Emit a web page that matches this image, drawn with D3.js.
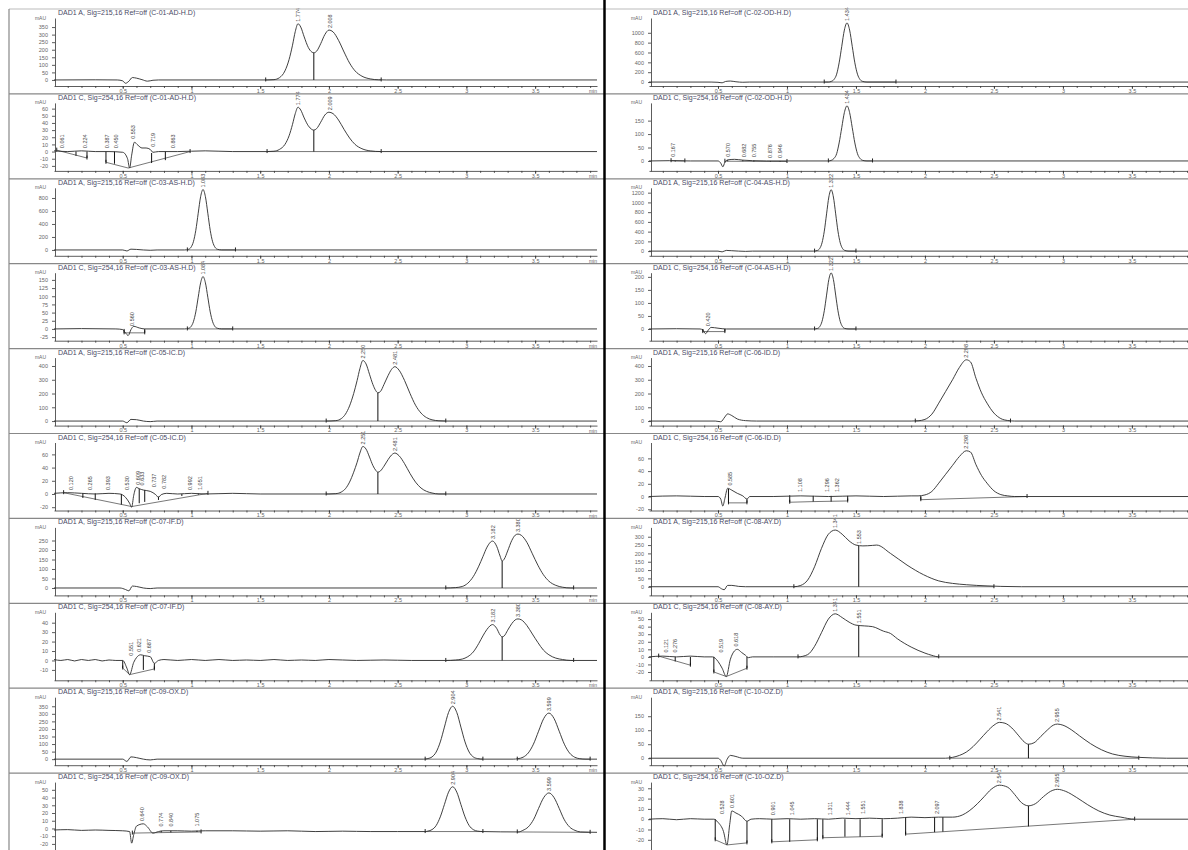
<!DOCTYPE html>
<html>
<head>
<script src="https://d3js.org/d3.v7.min.js"></script>
<style>
  body { margin: 0; background: #fff; }
  svg { display: block; font-family: 'Liberation Sans', Arial, sans-serif; }
  .title { font-size: 7px; fill: #4a4a66; }
  .unit { font-size: 5px; fill: #666; }
  .axis text { font-size: 5.5px; fill: #666; font-family: 'Liberation Sans', Arial, sans-serif; }
  .axis path, .axis line { stroke: #333; stroke-width: 0.8; }
  .plabel { font-size: 5.5px; fill: #444; }
</style>
</head>
<body>
<svg id="chart" width="1188" height="850"></svg>
<script>
// panels in reading order: row by row, left then right
const titles = [
  'DAD1 A, Sig=215,16 Ref=off (C-01-AD-H.D)', 'DAD1 A, Sig=215,16 Ref=off (C-02-OD-H.D)',
  'DAD1 C, Sig=254,16 Ref=off (C-01-AD-H.D)', 'DAD1 C, Sig=254,16 Ref=off (C-02-OD-H.D)',
  'DAD1 A, Sig=215,16 Ref=off (C-03-AS-H.D)', 'DAD1 A, Sig=215,16 Ref=off (C-04-AS-H.D)',
  'DAD1 C, Sig=254,16 Ref=off (C-03-AS-H.D)', 'DAD1 C, Sig=254,16 Ref=off (C-04-AS-H.D)',
  'DAD1 A, Sig=215,16 Ref=off (C-05-IC.D)',   'DAD1 A, Sig=215,16 Ref=off (C-06-ID.D)',
  'DAD1 C, Sig=254,16 Ref=off (C-05-IC.D)',   'DAD1 C, Sig=254,16 Ref=off (C-06-ID.D)',
  'DAD1 A, Sig=215,16 Ref=off (C-07-IF.D)',   'DAD1 A, Sig=215,16 Ref=off (C-08-AY.D)',
  'DAD1 C, Sig=254,16 Ref=off (C-07-IF.D)',   'DAD1 C, Sig=254,16 Ref=off (C-08-AY.D)',
  'DAD1 A, Sig=215,16 Ref=off (C-09-OX.D)',   'DAD1 A, Sig=215,16 Ref=off (C-10-OZ.D)',
  'DAD1 C, Sig=254,16 Ref=off (C-09-OX.D)',   'DAD1 C, Sig=254,16 Ref=off (C-10-OZ.D)'
];

const yDomains = [
  [-40, 410], [-80, 1300],
  [-27, 68], [-37, 216],
  [-90, 957], [-96, 1300],
  [-36, 172], [-45, 216],
  [-33, 461], [-33, 461],
  [-25, 78], [-22, 85],
  [-39, 319], [-52, 356],
  [-21, 51], [-31, 59],
  [-40, 410], [-25, 218],
  [-28, 60], [-30, 36]
];

const yTicks = [
  [0, 50, 100, 150, 200, 250, 300, 350], [0, 200, 400, 600, 800, 1000],
  [-20, -10, 0, 10, 20, 30, 40, 50, 60], [0, 50, 100, 150],
  [0, 200, 400, 600, 800], [0, 200, 400, 600, 800, 1000, 1200],
  [-25, 0, 25, 50, 75, 100, 125, 150], [0, 50, 100, 150, 200],
  [0, 100, 200, 300, 400], [0, 100, 200, 300, 400],
  [-20, 0, 20, 40, 60], [-20, 0, 20, 40, 60],
  [0, 50, 100, 150, 200, 250], [0, 50, 100, 150, 200, 250, 300],
  [-10, 0, 10, 20, 30, 40], [-20, -10, 0, 10, 20, 30, 40, 50],
  [0, 50, 100, 150, 200, 250, 300, 350], [0, 50, 100, 150],
  [-20, -10, 0, 10, 20, 30, 40, 50], [-20, -10, 0, 10, 20, 30]
];

const xTickLabels = [0.5, 1, 1.5, 2, 2.5, 3, 3.5];

// signal traces [time (min), mAU]
const traces = [
  // C-01 DAD1 A
  [[0,0],[0.3,1],[0.46,0],[0.5,-6],[0.52,-22],[0.545,-8],[0.57,16],[0.6,12],[0.64,2],[0.68,-8],[0.72,-2],[0.76,0],[1.2,0],[1.55,0],[1.6,2],[1.64,15],[1.68,60],[1.71,135],[1.735,230],[1.755,320],[1.775,372],[1.795,350],[1.82,285],[1.85,215],[1.875,185],[1.89,180],[1.91,190],[1.94,240],[1.97,300],[2.0,330],[2.03,318],[2.07,262],[2.11,185],[2.15,112],[2.19,60],[2.24,25],[2.3,7],[2.36,1],[2.42,0],[3.95,0]],
  // C-02 DAD1 A
  [[0,0],[0.45,0],[0.5,-5],[0.53,-15],[0.555,12],[0.59,20],[0.63,6],[0.68,-4],[0.73,0],[1.3,0],[1.32,12],[1.34,50],[1.36,160],[1.378,390],[1.397,725],[1.416,1055],[1.435,1200],[1.454,1055],[1.473,725],[1.492,390],[1.511,160],[1.53,50],[1.55,12],[1.58,0],[3.95,0]],
  // C-01 DAD1 C
  [[0,1],[0.1,0],[0.2,1],[0.3,0],[0.4,0],[0.5,-1],[0.535,-10],[0.55,-23],[0.565,-5],[0.585,13],[0.61,9],[0.64,5],[0.67,5],[0.7,3],[0.72,-1],[0.76,0],[0.9,0],[1.1,1],[1.3,0],[1.55,0],[1.6,0.5],[1.64,3],[1.68,10],[1.71,22],[1.735,38],[1.755,53],[1.775,62],[1.795,58],[1.82,47],[1.85,36],[1.875,31],[1.89,30],[1.91,32],[1.94,41],[1.97,51],[2.0,55],[2.03,53],[2.07,44],[2.11,31],[2.15,19],[2.19,10],[2.24,4],[2.3,1],[2.38,0],[3.95,0]],
  // C-02 DAD1 C
  [[0,0],[0.15,1],[0.3,0],[0.5,0],[0.52,-8],[0.535,-22],[0.55,-5],[0.57,4],[0.62,6],[0.68,3],[0.75,1],[0.85,0],[1.3,0],[1.32,2],[1.34,9],[1.36,27],[1.378,67],[1.397,124],[1.416,180],[1.435,205],[1.454,180],[1.473,124],[1.492,67],[1.511,27],[1.53,9],[1.55,2],[1.58,0],[3.95,0]],
  // C-03 DAD1 A
  [[0,0],[0.5,0],[0.53,-15],[0.56,12],[0.6,8],[0.65,0],[0.7,-5],[0.75,0],[0.95,0],[0.979,10],[0.9965,41],[1.014,126],[1.0315,302],[1.049,565],[1.0665,820],[1.084,930],[1.1015,820],[1.119,565],[1.1365,302],[1.154,126],[1.1715,41],[1.189,10],[1.22,0],[3.95,0]],
  // C-04 DAD1 A
  [[0,0],[0.5,0],[0.53,-15],[0.56,15],[0.6,8],[0.65,0],[0.7,-5],[0.75,0],[1.19,0],[1.221,14],[1.2375,55],[1.254,170],[1.2705,410],[1.287,765],[1.3035,1111],[1.32,1260],[1.3365,1111],[1.353,765],[1.3695,410],[1.386,170],[1.4025,55],[1.419,14],[1.45,0],[3.95,0]],
  // C-03 DAD1 C
  [[0,0],[0.2,1],[0.45,0],[0.5,-2],[0.52,-12],[0.54,-20],[0.56,-2],[0.58,8],[0.62,3],[0.66,0],[0.95,0],[0.979,2],[0.9965,7],[1.014,22],[1.0315,52],[1.049,97],[1.0665,141],[1.084,160],[1.1015,141],[1.119,97],[1.1365,52],[1.154,22],[1.1715,7],[1.189,2],[1.22,0],[3.95,0]],
  // C-04 DAD1 C
  [[0,0],[0.2,1],[0.37,0],[0.39,-4],[0.41,-18],[0.43,-4],[0.45,6],[0.5,3],[0.56,0],[1.19,0],[1.221,2],[1.2375,9],[1.254,29],[1.2705,70],[1.287,130],[1.3035,190],[1.32,215],[1.3365,190],[1.353,130],[1.3695,70],[1.386,29],[1.4025,9],[1.419,2],[1.45,0],[3.95,0]],
  // C-05 DAD1 A
  [[0,0],[0.5,0],[0.53,-12],[0.56,12],[0.6,10],[0.65,0],[0.7,-4],[0.75,0],[1.98,0],[2.05,3],[2.09,18],[2.12,50],[2.15,110],[2.18,200],[2.205,295],[2.225,380],[2.247,440],[2.27,415],[2.295,340],[2.32,265],[2.34,222],[2.356,205],[2.375,215],[2.4,265],[2.43,330],[2.455,375],[2.48,395],[2.51,370],[2.55,295],[2.59,200],[2.63,115],[2.67,58],[2.71,25],[2.75,9],[2.8,2],[2.85,0],[3.95,0]],
  // C-06 DAD1 A
  [[0,0],[0.48,0],[0.52,-5],[0.55,30],[0.57,52],[0.6,40],[0.64,15],[0.7,3],[0.78,0],[1.9,0],[1.95,2],[2.0,12],[2.05,50],[2.1,130],[2.15,215],[2.2,300],[2.25,390],[2.3,445],[2.33,430],[2.37,310],[2.41,205],[2.45,130],[2.5,58],[2.55,18],[2.6,4],[2.65,0],[3.95,0]],
  // C-05 DAD1 C
  [[0,1],[0.1,2],[0.2,1],[0.3,0],[0.4,1],[0.48,0],[0.52,-5],[0.55,-14],[0.565,-20],[0.58,-2],[0.6,10],[0.62,8],[0.65,6],[0.7,4],[0.74,-1],[0.76,-5],[0.78,-1],[0.82,1],[0.9,0],[1.0,1],[1.1,0],[1.3,1],[1.5,0],[2.0,0],[2.05,0.5],[2.09,3],[2.12,8],[2.15,18],[2.18,33],[2.205,48],[2.225,62],[2.247,72],[2.27,68],[2.295,56],[2.32,43],[2.34,36],[2.356,33],[2.375,35],[2.4,42],[2.43,52],[2.455,59],[2.48,62],[2.51,58],[2.55,46],[2.59,31],[2.63,18],[2.67,9],[2.71,4],[2.75,1.5],[2.8,0],[3.95,0]],
  // C-06 DAD1 C
  [[0,0],[0.2,1],[0.4,0],[0.5,0],[0.52,-4],[0.535,-15],[0.55,-3],[0.57,13],[0.6,10],[0.64,5],[0.68,1],[0.71,-4],[0.73,0],[0.9,0],[1.1,1],[1.3,0],[1.5,1],[1.7,0],[1.9,1],[1.95,1],[2.0,2.5],[2.05,8],[2.1,21],[2.15,35],[2.2,49],[2.25,63],[2.3,72],[2.33,70],[2.37,50],[2.41,33],[2.45,21],[2.5,9],[2.55,3],[2.6,1],[2.65,0],[3.95,0]],
  // C-07 DAD1 A
  [[0,0],[0.48,0],[0.52,-8],[0.545,-15],[0.57,10],[0.6,8],[0.65,0],[0.7,-3],[0.75,0],[2.85,0],[2.92,2],[2.97,8],[3.01,25],[3.05,60],[3.09,115],[3.12,165],[3.15,215],[3.19,247],[3.22,220],[3.245,168],[3.26,142],[3.275,152],[3.3,195],[3.33,250],[3.355,278],[3.375,284],[3.4,277],[3.44,240],[3.48,180],[3.52,120],[3.56,70],[3.6,36],[3.65,14],[3.7,4],[3.76,0],[3.95,0]],
  // C-08 DAD1 A
  [[0,0],[0.5,0],[0.525,-12],[0.545,-18],[0.57,8],[0.6,8],[0.65,2],[0.7,0],[1.05,0],[1.1,8],[1.15,40],[1.2,120],[1.25,230],[1.3,315],[1.35,340],[1.4,315],[1.45,275],[1.5,250],[1.55,245],[1.62,248],[1.65,250],[1.75,200],[1.87,130],[1.99,72],[2.1,35],[2.2,20],[2.3,12],[2.45,5],[2.55,2],[2.7,0],[3.95,0]],
  // C-07 DAD1 C
  [[0,1],[0.05,0],[0.1,1],[0.15,-0.5],[0.2,1],[0.25,0],[0.3,1],[0.35,-0.5],[0.4,0.5],[0.45,0],[0.5,0],[0.53,-8],[0.55,-15],[0.58,-2],[0.6,3],[0.63,6],[0.66,5],[0.7,4],[0.73,-3],[0.76,0],[0.8,1],[0.9,0],[1,1],[1.1,0],[1.2,1],[1.3,0],[1.4,0.5],[1.5,0],[1.6,1],[1.7,0],[1.8,0.5],[1.9,0],[2.0,1],[2.2,0],[2.4,0.5],[2.6,0],[2.85,0],[2.92,0.5],[2.97,1.5],[3.01,4],[3.05,9],[3.09,18],[3.12,26],[3.15,33],[3.19,38],[3.22,34],[3.245,27],[3.26,25],[3.275,26],[3.3,32],[3.33,39],[3.355,43],[3.375,44],[3.4,43],[3.44,37],[3.48,28],[3.52,19],[3.56,11],[3.6,6],[3.65,2.5],[3.7,1],[3.76,0],[3.95,0]],
  // C-08 DAD1 C
  [[0,0],[0.1,1],[0.2,0],[0.3,1],[0.4,0],[0.46,0],[0.5,-6],[0.53,-15],[0.56,-26],[0.59,-3],[0.62,8],[0.64,10],[0.67,6],[0.7,2],[0.72,-1],[0.75,0],[0.9,0],[1.08,0],[1.15,3],[1.2,14],[1.25,32],[1.3,50],[1.35,57],[1.4,52],[1.45,46],[1.5,42],[1.56,41],[1.62,40],[1.7,34],[1.75,31],[1.8,24],[1.9,13],[2.0,5],[2.05,2],[2.1,0],[3.95,0]],
  // C-09 DAD1 A
  [[0,0],[0.5,0],[0.53,-15],[0.56,15],[0.6,10],[0.65,0],[0.7,-5],[0.75,0],[2.69,0],[2.72,4],[2.75,15],[2.78,47],[2.81,114],[2.84,212],[2.87,309],[2.9,350],[2.93,309],[2.96,212],[2.99,114],[3.02,47],[3.05,15],[3.08,4],[3.12,0],[3.34,0],[3.375,3],[3.4125,13],[3.45,41],[3.4875,99],[3.525,185],[3.5625,269],[3.6,305],[3.6375,269],[3.675,185],[3.7125,99],[3.75,41],[3.7875,13],[3.825,3],[3.87,0],[3.95,0]],
  // C-10 DAD1 A
  [[0,0],[0.5,0],[0.52,-8],[0.545,-28],[0.565,-5],[0.59,10],[0.63,6],[0.68,0],[2.15,0],[2.2,3],[2.25,10],[2.3,22],[2.35,42],[2.4,68],[2.45,95],[2.5,118],[2.54,128],[2.58,125],[2.63,108],[2.68,80],[2.72,58],[2.75,50],[2.79,55],[2.84,78],[2.89,102],[2.93,118],[2.96,122],[3.0,118],[3.06,102],[3.12,80],[3.2,52],[3.28,30],[3.36,15],[3.45,7],[3.55,3],[3.65,1],[3.75,0],[3.95,0]],
  // C-09 DAD1 C
  [[0,-2],[0.1,-1.5],[0.2,-2.5],[0.3,-2],[0.4,-2.5],[0.5,-3],[0.55,-4],[0.565,-19],[0.58,-8],[0.6,3],[0.65,6],[0.68,2],[0.72,-6],[0.76,-4],[0.8,-3],[0.9,-3],[1.0,-3.5],[1.1,-3],[1.3,-3],[1.5,-3.5],[1.7,-3],[1.9,-4],[2.1,-3.5],[2.3,-4],[2.5,-4],[2.7,-4],[2.72,-3.4],[2.75,-1.5],[2.78,3.8],[2.81,15],[2.84,31],[2.87,47],[2.9,54],[2.93,47],[2.96,31],[2.99,15],[3.02,3.8],[3.05,-1.5],[3.08,-3.4],[3.12,-4],[3.38,-4.5],[3.41,-2.5],[3.45,2],[3.49,12],[3.525,26],[3.5625,40],[3.6,46],[3.6375,40],[3.675,26],[3.71,12],[3.75,2],[3.79,-2.5],[3.83,-4.5],[3.95,-5]],
  // C-10 DAD1 C
  [[0,0],[0.1,0.5],[0.2,-0.5],[0.3,0.5],[0.4,0],[0.47,0],[0.5,-3],[0.54,-12],[0.565,-25],[0.585,-5],[0.6,8],[0.63,6],[0.67,3],[0.71,-2],[0.74,0],[0.8,0.5],[0.9,0],[1.0,0.5],[1.1,0],[1.2,0.5],[1.3,0],[1.4,1],[1.5,0.5],[1.6,1],[1.7,0.5],[1.8,1],[1.9,2],[2.0,1.5],[2.1,2],[2.2,2],[2.27,4],[2.32,8],[2.38,15],[2.43,22],[2.48,29],[2.54,33],[2.6,31],[2.65,24],[2.7,16],[2.75,13],[2.8,15],[2.86,22],[2.91,27],[2.96,29],[3.02,27],[3.1,21],[3.18,14],[3.26,8],[3.34,4],[3.42,2],[3.52,0],[3.95,0]]
];

// retention time labels [time, mAU at label foot, text]
const peakLabels = [
  [[1.775,372,'1.774'],[2.005,330,'2.008']],
  [[1.435,1200,'1.434']],
  [[1.775,62,'1.774'],[2.005,55,'2.009'],[0.061,2,'0.061'],[0.224,2,'0.224'],[0.387,2,'0.387'],[0.45,2,'0.450'],[0.575,15,'0.553'],[0.719,4,'0.719'],[0.863,2,'0.863']],
  [[1.435,205,'1.434'],[0.174,8,'0.167'],[0.572,8,'0.570'],[0.686,6,'0.682'],[0.758,6,'0.755'],[0.879,4,'0.876'],[0.951,4,'0.946']],
  [[1.084,930,'1.083']],
  [[1.32,1260,'1.322']],
  [[1.084,160,'1.084'],[0.57,3,'0.560']],
  [[1.32,215,'1.322'],[0.43,3,'0.420']],
  [[2.247,440,'2.250'],[2.48,395,'2.481']],
  [[2.3,445,'2.298']],
  [[2.247,72,'2.251'],[2.48,62,'2.481'],[0.124,3,'0.120'],[0.26,3,'0.265'],[0.39,3,'0.393'],[0.53,3,'0.530'],[0.61,11,'0.609'],[0.64,10,'0.633'],[0.73,7,'0.737'],[0.8,5,'0.782'],[0.99,3,'0.992'],[1.06,3,'1.051']],
  [[2.3,72,'2.298'],[0.59,14,'0.585'],[1.096,4,'1.108'],[1.29,4,'1.296'],[1.36,4,'1.362']],
  [[3.19,247,'3.182'],[3.375,284,'3.380']],
  [[1.35,340,'1.341'],[1.52,245,'1.553']],
  [[3.19,38,'3.182'],[3.375,44,'3.380'],[0.56,3,'0.551'],[0.62,7,'0.621'],[0.69,6,'0.687']],
  [[1.35,57,'1.341'],[1.52,42,'1.551'],[0.12,3,'0.121'],[0.19,3,'0.276'],[0.52,3,'0.519'],[0.63,11,'0.618']],
  [[2.9,350,'2.904'],[3.6,305,'3.599']],
  [[2.54,128,'2.541'],[2.96,122,'2.955']],
  [[2.9,54,'2.904'],[3.6,46,'3.599'],[0.64,7,'0.640'],[0.78,0,'0.774'],[0.85,0,'0.840'],[1.04,0,'1.075']],
  [[2.54,33,'2.541'],[2.96,29,'2.955'],[0.53,3,'0.528'],[0.6,9,'0.601'],[0.9,2,'0.901'],[1.04,2,'1.045'],[1.31,2,'1.311'],[1.44,2,'1.444'],[1.55,3,'1.551'],[1.83,3,'1.838'],[2.09,3,'2.097']]
];

// integration drop lines [time, from mAU, to mAU]
const dropLines = [
  [[1.89,180,0]],
  [],
  [[1.89,30,0],[0.16,0,-6],[0.24,0,-9],[0.378,0,-15],[0.44,0,-17],[0.71,-2,-16],[0.81,0,-12]],
  [[0.19,1,-2],[0.57,3,-1],[0.68,3,-1],[0.76,1,-2],[0.88,0,-2],[0.95,0,-2]],
  [],
  [],
  [[0.51,0,-12],[0.66,0,-12]],
  [[0.39,0,-10],[0.55,0,-10]],
  [[2.356,205,0]],
  [],
  [[2.356,33,0],[0.21,1,-6],[0.3,1,-9],[0.49,0,-16],[0.62,8,-14],[0.66,6,-12],[0.76,-4,-9],[0.93,0,-3],[1.05,1,-1]],
  [[0.576,12,-10],[0.71,-4,-10],[1.02,2,-9],[1.19,1,-8],[1.32,1,-8],[1.44,1,-7],[1.97,1,-5]],
  [[3.26,142,0]],
  [[1.52,245,0]],
  [[3.26,25,0],[0.5,0,-8],[0.65,5,-10],[0.73,-3,-9]],
  [[1.52,41,0],[0.19,0,-6],[0.3,0,-11],[0.47,0,-20],[0.71,0,-15]],
  [],
  [[2.75,50,0]],
  [[0.78,-3,-5],[0.85,-3,-5],[1.04,-3,-4.5]],
  [[2.75,13,-7],[0.48,0,-20],[0.71,-2,-23],[0.89,0,-22],[1.02,0,-22],[1.22,0,-20],[1.26,0,-18],[1.42,0,-17],[1.53,0,-17],[1.69,0,-16.5],[1.86,2,-14.5],[2.07,2,-12.6],[2.13,2,-12.1]]
];

// integration baselines, each a polyline of [time, mAU]
const baseLines = [
  [[[1.54,0],[2.38,0]]],
  [[[1.27,0],[1.79,0]]],
  [[[0.02,2],[0.24,-9]],[[0.378,-15],[0.54,-23],[0.99,0]],[[1.55,0],[2.38,0]]],
  [[[0.16,1],[0.26,0]],[[0.55,-1],[1.0,-2]],[[1.3,0],[1.62,0]]],
  [[[0.97,0],[1.32,0]]],
  [[[1.2,0],[1.5,0]]],
  [[[0.51,-12],[0.66,-12]],[[0.97,0],[1.3,0]]],
  [[[0.39,-10],[0.55,-10]],[[1.2,0],[1.5,0]]],
  [[[1.98,0],[2.85,0]]],
  [[[1.93,0],[2.62,0]]],
  [[[0.07,2],[0.565,-19],[1.12,1]],[[1.98,0],[2.85,0]]],
  [[[0.576,-10],[0.71,-10]],[[1.02,-9],[1.19,-8],[1.44,-7]],[[1.97,-5],[2.74,0]]],
  [[[2.85,0],[3.78,0]]],
  [[[1.05,0],[2.5,0]]],
  [[[0.5,-8],[0.55,-15],[0.73,-9]],[[2.85,0],[3.78,0]]],
  [[[0.07,1],[0.3,-11]],[[0.47,-20],[0.56,-26],[0.71,-15]],[[1.08,0],[2.1,0]]],
  [[[2.7,0],[3.12,0]],[[3.37,0],[3.9,0]]],
  [[[2.18,0],[3.55,0]]],
  [[[0.57,-6],[1.07,-4.5]],[[2.7,-4],[3.12,-4]],[[3.37,-4.5],[3.9,-5]]],
  [[[0.48,-20],[0.565,-25],[0.71,-23]],[[0.89,-22],[1.22,-20]],[[1.26,-18],[1.69,-16.5]],[[1.86,-14.5],[3.52,0]]]
];

const svg = d3.select('#chart');
const rowTop = r => 9 + 84.9 * r;
const xScales = [
  d3.scaleLinear().domain([0, 3.95]).range([54, 597]),
  d3.scaleLinear().domain([0, 3.95]).range([649, 1194])
];
const axisX = [55, 651];
const titleX = [58, 653];
const minorTicks = d3.range(1, 40).map(d => d / 10);

titles.forEach((title, i) => {
  const row = Math.floor(i / 2), col = i % 2;
  const top = rowTop(row);
  const x = xScales[col];
  const y = d3.scaleLinear().domain(yDomains[i]).range([top + 77, top + 9]);
  const g = svg.append('g');
  const lastRow = row === 9;   // bottom row is cut by the page edge

  g.append('text').attr('class', 'title')
    .attr('x', titleX[col]).attr('y', top + 6).text(title);
  g.append('text').attr('class', 'unit')
    .attr('x', axisX[col] - 9).attr('y', top + 10.5)
    .attr('text-anchor', 'end').text('mAU');

  g.append('g').attr('class', 'axis')
    .attr('transform', `translate(${axisX[col]},0)`)
    .call(d3.axisLeft(y).tickValues(yTicks[i]).tickSize(3).tickSizeOuter(0)
      .tickPadding(4).tickFormat(d => String(d)));

  g.append('g').attr('class', 'axis')
    .attr('transform', `translate(0,${top + 77})`)
    .call(d3.axisBottom(x).tickValues(xTickLabels).tickSize(3).tickSizeOuter(0)
      .tickPadding(0).tickFormat(d => lastRow ? '' : String(d)));
  g.append('g').attr('class', 'axis')
    .attr('transform', `translate(0,${top + 77})`)
    .call(d3.axisBottom(x).tickValues(minorTicks).tickSize(2).tickFormat(''))
    .call(a => a.select('.domain').remove())
    .call(a => a.selectAll('text').remove());
  if (lastRow) g.selectAll('.axis text').filter(function () { return this.textContent === ''; }).remove();
  if (col === 0 && !lastRow) {
    g.append('text').attr('class', 'unit')
      .attr('x', x.range()[1]).attr('y', top + 84)
      .attr('text-anchor', 'end').text('min');
  }

  // integration baselines
  const line = d3.line().x(d => x(d[0])).y(d => y(d[1]));
  g.selectAll('.base').data(baseLines[i]).join('path')
    .attr('d', line)
    .attr('fill', 'none').attr('stroke', '#555').attr('stroke-width', 0.8);
  g.selectAll('.mark').data(baseLines[i].flatMap(b => [b[0], b[b.length - 1]])).join('line')
    .attr('x1', d => x(d[0])).attr('x2', d => x(d[0]))
    .attr('y1', d => y(d[1]) - 2.5).attr('y2', d => y(d[1]) + 1.5)
    .attr('stroke', '#222').attr('stroke-width', 1);

  // drop lines
  g.selectAll('.drop').data(dropLines[i]).join('line')
    .attr('x1', d => x(d[0])).attr('x2', d => x(d[0]))
    .attr('y1', d => y(d[1])).attr('y2', d => y(d[2]))
    .attr('stroke', '#111').attr('stroke-width', 1);

  // signal
  g.append('path')
    .datum(traces[i])
    .attr('d', d3.line().x(d => x(d[0])).y(d => y(d[1])).curve(d3.curveMonotoneX))
    .attr('fill', 'none').attr('stroke', '#2a2a2a').attr('stroke-width', 0.9);

  // retention time labels
  g.selectAll('.plabel').data(peakLabels[i]).join('text')
    .attr('class', 'plabel')
    .attr('transform', d => `translate(${x(d[0]) + 2},${y(d[1]) - 2}) rotate(-90)`)
    .text(d => d[2]);
});

// frame lines
const frame = svg.append('g').attr('stroke', '#888').attr('stroke-width', 1.2);
frame.append('line').attr('x1', 9).attr('x2', 1188).attr('y1', 9).attr('y2', 9).attr('stroke', '#bbb');
frame.append('line').attr('x1', 9).attr('x2', 9).attr('y1', 9).attr('y2', 850);
d3.range(1, 10).forEach(r => {
  frame.append('line').attr('x1', 9).attr('x2', 1188)
    .attr('y1', rowTop(r)).attr('y2', rowTop(r));
});
svg.append('line').attr('x1', 604.5).attr('x2', 604.5).attr('y1', 0).attr('y2', 850)
  .attr('stroke', '#000').attr('stroke-width', 2.5);
</script>
</body>
</html>
